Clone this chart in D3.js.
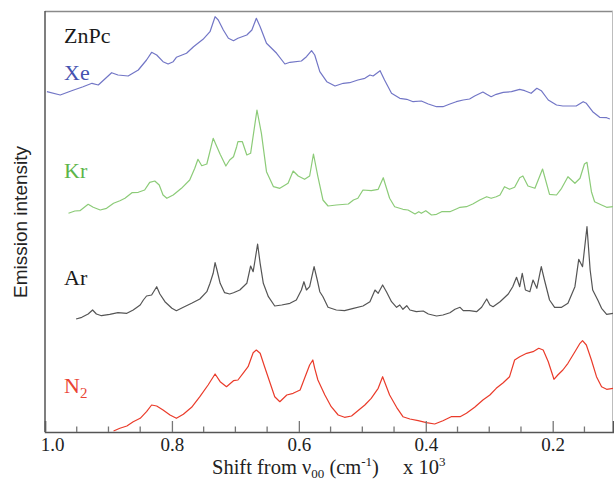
<!DOCTYPE html>
<html>
<head>
<meta charset="utf-8">
<script src="https://cdn.jsdelivr.net/npm/d3@7"></script>
<style>
  html, body { margin: 0; padding: 0; background: #fff; }
  svg { display: block; }
</style>
</head>
<body>
<svg id="chart" width="614" height="483"></svg>
<script>
// Shift from v00 (x 10^3 cm^-1) and stacked emission intensity (arb. units, offset per matrix)
const xeShift = [0.997,0.976,0.958,0.940,0.926,0.916,0.895,0.885,0.869,0.853,0.840,0.832,0.824,0.814,0.806,0.798,0.793,0.777,0.766,0.751,0.740,0.732,0.727,0.719,0.711,0.703,0.696,0.682,0.674,0.667,0.661,0.651,0.635,0.622,0.614,0.596,0.588,0.580,0.575,0.567,0.556,0.543,0.530,0.520,0.507,0.496,0.488,0.483,0.472,0.465,0.454,0.441,0.430,0.420,0.407,0.396,0.383,0.373,0.362,0.352,0.341,0.331,0.323,0.310,0.304,0.297,0.289,0.278,0.265,0.252,0.244,0.234,0.225,0.218,0.207,0.194,0.184,0.163,0.152,0.147,0.137,0.126,0.115,0.110];
const xeIntensity = [340.3,337,341.3,345.3,348.7,347,359.3,357,356,362,372,379.7,377,370.3,368,370.3,374.7,378.7,385.3,392.7,400.3,415.3,412,402,393.7,391.3,393.7,397,402,413.7,405.3,388.7,378.7,368,369.7,371,375.3,381.3,377,360.3,350.3,346,348.7,349.3,352,353.7,357,356,361.3,352,338.7,333.7,332.7,330.3,331,328,325.3,325.3,328,330.3,332,333,336,340,337.7,335.3,337.7,339.7,340.3,342.7,341.3,338.7,343.7,341.3,332,327,326,326,330.3,328.7,320.3,314.7,314.3,313];

const krShift = [0.963,0.953,0.945,0.932,0.924,0.913,0.903,0.892,0.882,0.874,0.863,0.853,0.843,0.835,0.827,0.820,0.814,0.808,0.798,0.785,0.772,0.764,0.759,0.753,0.745,0.735,0.724,0.715,0.709,0.703,0.698,0.696,0.689,0.682,0.676,0.666,0.659,0.651,0.640,0.630,0.617,0.609,0.601,0.591,0.583,0.577,0.570,0.562,0.554,0.541,0.522,0.514,0.507,0.499,0.486,0.475,0.467,0.457,0.449,0.436,0.428,0.417,0.411,0.407,0.400,0.391,0.383,0.375,0.362,0.352,0.346,0.336,0.326,0.315,0.304,0.297,0.289,0.283,0.276,0.268,0.260,0.252,0.247,0.239,0.228,0.216,0.205,0.194,0.186,0.176,0.165,0.157,0.150,0.146,0.139,0.134,0.123,0.115,0.105];
const krIntensity = [218.7,221,221.3,227.7,224.7,222,223.7,228.7,231.3,233.7,239.3,239.7,242,249.7,251,247,237,233.7,237,243.7,252,263.7,272.7,266.3,268,293.7,277.7,266,272,275.3,285.3,290.3,290.3,277,278.7,322,298.7,260.3,245.3,243.7,248.7,261,256,252.7,256,278,255.3,232,226,227,228,232,233.7,242,241.3,242.7,254.3,233.7,225.3,222.7,222,218,220.3,218.7,221.3,217,217.7,220.3,220.3,223,224.7,225.3,228,232,235.3,233.7,235.3,237,245.3,242.7,244.7,254.3,256,246,243.7,263,237.7,237,243.7,255.3,248.7,253.7,268,269.7,240.3,230.3,227,224.7,225.3];

const arShift = [0.951,0.942,0.932,0.925,0.919,0.911,0.898,0.885,0.871,0.861,0.850,0.845,0.840,0.832,0.824,0.819,0.811,0.800,0.793,0.782,0.769,0.756,0.745,0.740,0.735,0.732,0.729,0.724,0.717,0.709,0.703,0.693,0.682,0.676,0.672,0.669,0.665,0.661,0.656,0.648,0.638,0.627,0.614,0.604,0.596,0.592,0.588,0.583,0.576,0.571,0.567,0.562,0.554,0.541,0.528,0.514,0.499,0.488,0.480,0.475,0.468,0.462,0.454,0.446,0.441,0.436,0.430,0.425,0.415,0.404,0.396,0.383,0.373,0.362,0.354,0.346,0.341,0.331,0.320,0.312,0.304,0.299,0.294,0.283,0.270,0.263,0.257,0.252,0.248,0.243,0.236,0.231,0.225,0.218,0.213,0.205,0.197,0.186,0.176,0.165,0.159,0.153,0.146,0.141,0.137,0.129,0.123,0.115,0.105];
const arIntensity = [113,114.7,118,122,118,116.3,117.7,119.3,118.7,122,127,132,136,137,145.3,138,130.3,123.7,121.3,124.7,128.7,133,140.3,148.7,158.7,169.3,162,148.7,139.3,138,139.3,142,148.7,166,160.3,172,188,168.7,148.7,135.3,126,127,128.7,132,142,150.3,142,145.3,165.3,152,140.3,135.3,124.7,122,121.3,123.7,126,130.3,142,138.7,147,140.3,130.3,124.7,127,122.7,126.3,122,120.3,121,118,116,117,119.3,122.7,124.7,121.3,121.3,120.3,124.7,133,127,125.3,130.3,138,145.3,154.7,145.3,158.7,142,140.3,152,143.7,165.3,152,132,124.7,124.7,128.7,145.3,172.7,165.3,205.3,162,142,132,123.7,117.7,118.7];

const n2Shift = [0.892,0.882,0.871,0.861,0.850,0.840,0.832,0.824,0.814,0.803,0.793,0.782,0.769,0.756,0.743,0.732,0.724,0.714,0.703,0.696,0.688,0.680,0.672,0.667,0.661,0.654,0.646,0.638,0.630,0.619,0.609,0.598,0.591,0.583,0.578,0.575,0.570,0.559,0.549,0.538,0.528,0.517,0.507,0.496,0.486,0.475,0.468,0.465,0.457,0.446,0.436,0.425,0.412,0.399,0.386,0.373,0.360,0.346,0.336,0.323,0.310,0.299,0.289,0.278,0.268,0.260,0.252,0.241,0.231,0.222,0.215,0.207,0.198,0.192,0.184,0.176,0.165,0.157,0.153,0.147,0.139,0.131,0.123,0.115,0.105];
const n2Intensity = [1,3.7,6,10.3,13.7,20.3,27,26,22,17,13.7,17.7,24.7,35.3,47,58,50.3,45.3,51.3,52,58.7,65.3,79.3,82,78.7,65.3,50.3,35.3,30.3,37,38.7,42,53.7,67,72,63.7,52,37,25.3,17,14.7,16,21.3,27,33.7,43.7,55.3,50.3,37,24.7,15.3,13,11.3,9.3,8,11.3,15.3,15.3,18.7,24.7,32,37,43.7,49.3,55.3,72,75.3,78.7,80.3,83.7,82,70.3,52.7,57,62,68.7,80.3,88.7,91.3,87,72,55.3,45.3,42.7,43.7];

const xTickValues = [1.0, 0.8, 0.6, 0.4, 0.2];
const xTickLabels = ["1.0", "0.8", "0.6", "0.4", "0.2"];
const xMinorTicks = [0.95,0.9,0.85,0.75,0.7,0.65,0.55,0.5,0.45,0.35,0.3,0.25,0.15];

const seriesNames = ["Xe", "Kr", "Ar", "N2"];
const seriesColors = ["#7276c6", "#8ccb78", "#555555", "#ea3b2a"];
const labelColors = ["#4652b0", "#5cb54a", "#1a1a1a", "#ea4434"];
const labelIntensity = [352, 254, 147, 39];

const series = [
  {name: seriesNames[0], x: xeShift, y: xeIntensity},
  {name: seriesNames[1], x: krShift, y: krIntensity},
  {name: seriesNames[2], x: arShift, y: arIntensity},
  {name: seriesNames[3], x: n2Shift, y: n2Intensity}
];

const svg = d3.select("#chart");
const pL = 45, pR = 613, pT = 11, pB = 432;
const serif = "'Liberation Serif', 'Times New Roman', serif";

const x = d3.scaleLinear().domain([1.0, 0.105]).range([pL, pR]);
const y = d3.scaleLinear().domain([0, 421]).range([pB, pT]);

svg.append("defs").append("clipPath").attr("id", "clip")
  .append("rect").attr("x", pL).attr("y", pT).attr("width", pR - pL).attr("height", pB - pT);

// frame
svg.append("line").attr("x1", pL).attr("x2", pR).attr("y1", pT + 0.5).attr("y2", pT + 0.5)
  .attr("stroke", "#8a8a8a").attr("stroke-width", 1.5);
svg.append("line").attr("x1", pR - 0.5).attr("x2", pR - 0.5).attr("y1", pT).attr("y2", pB)
  .attr("stroke", "#bdbdbd").attr("stroke-width", 1);

const line = d3.line().x(d => x(d[0])).y(d => y(d[1]));

const g = svg.append("g").attr("clip-path", "url(#clip)");
series.forEach((s, i) => {
  const pts = s.x.map((v, k) => [v, s.y[k]]);
  g.append("path").datum(pts)
    .attr("d", line)
    .attr("fill", "none")
    .attr("stroke", seriesColors[i])
    .attr("stroke-width", 1.2)
    .attr("stroke-linejoin", "round");
});

// axes
const xAxis = svg.append("g").attr("transform", `translate(0,${pB})`)
  .call(d3.axisBottom(x).tickValues(xTickValues).tickSize(-11).tickFormat((d, i) => xTickLabels[i]).tickPadding(5.5));
xAxis.select(".domain").attr("stroke", "#555").attr("stroke-width", 1.5);
xAxis.selectAll(".tick line").attr("stroke", "#777").attr("stroke-width", 1.3);
xAxis.selectAll(".tick text").attr("font-family", serif).attr("font-size", 19).attr("fill", "#222")
  .attr("dx", (d, i) => i === 0 ? 7 : 0);
xAxis.selectAll(".minor").data(xMinorTicks).enter().append("line")
  .attr("class", "minor")
  .attr("x1", d => x(d)).attr("x2", d => x(d)).attr("y1", 0).attr("y2", -5.5)
  .attr("stroke", "#777").attr("stroke-width", 1.3);

svg.append("line").attr("x1", pL).attr("x2", pL).attr("y1", pT).attr("y2", pB)
  .attr("stroke", "#555").attr("stroke-width", 1.5);

// axis titles
const xt = svg.append("text").attr("x", 212).attr("y", 474)
  .attr("font-family", serif).attr("font-size", 20.5).attr("fill", "#222");
xt.append("tspan").text("Shift from ν");
xt.append("tspan").attr("font-size", 13).attr("dy", 4).text("00");
xt.append("tspan").attr("dy", -4).text(" (cm");
xt.append("tspan").attr("font-size", 13).attr("dy", -8).text("-1");
xt.append("tspan").attr("dy", 8).text(")");
xt.append("tspan").attr("x", 403).text("x 10");
xt.append("tspan").attr("font-size", 13).attr("dy", -8).text("3");

svg.append("text").attr("transform", "translate(27,222) rotate(-90)")
  .attr("text-anchor", "middle")
  .attr("font-family", "'Liberation Sans', Arial, sans-serif").attr("font-size", 19).attr("fill", "#222")
  .text("Emission intensity");

// series labels
svg.append("text").attr("x", 64).attr("y", 43).attr("font-family", serif).attr("font-size", 22)
  .attr("fill", "#1a1a1a").text("ZnPc");
seriesNames.forEach((n, i) => {
  const t = svg.append("text").attr("x", 64).attr("y", y(labelIntensity[i]))
    .attr("font-family", serif).attr("font-size", 22).attr("fill", labelColors[i]);
  if (n === "N2") {
    t.append("tspan").text("N");
    t.append("tspan").attr("font-size", 15).attr("dy", 5).text("2");
  } else {
    t.text(n);
  }
});
</script>
</body>
</html>
